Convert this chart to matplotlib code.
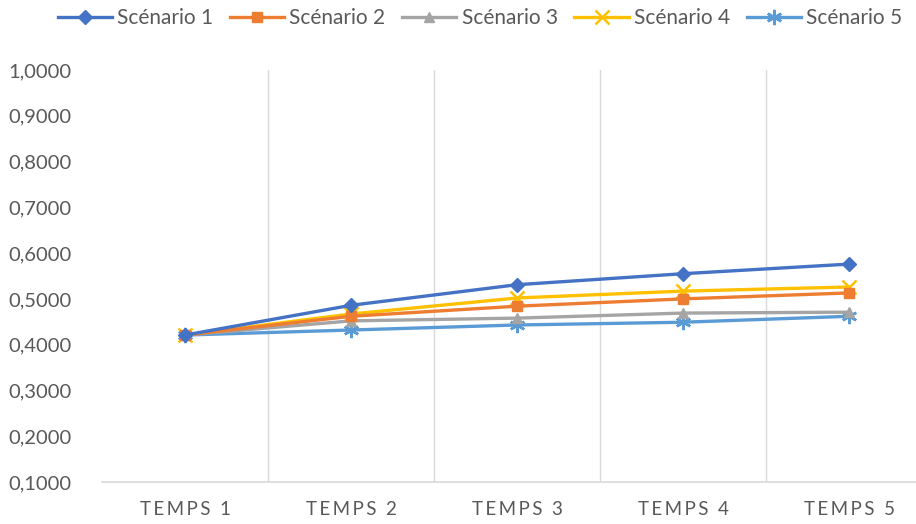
import matplotlib
matplotlib.use("Agg")
from matplotlib import pyplot as plt
from matplotlib.ticker import FuncFormatter

# données
temps = ["TEMPS 1", "TEMPS 2", "TEMPS 3", "TEMPS 4", "TEMPS 5"]
scenario_1 = [0.421, 0.486, 0.531, 0.555, 0.576]
scenario_2 = [0.421, 0.462, 0.484, 0.500, 0.513]
scenario_3 = [0.421, 0.452, 0.458, 0.469, 0.471]
scenario_4 = [0.421, 0.467, 0.502, 0.517, 0.526]
scenario_5 = [0.421, 0.432, 0.443, 0.449, 0.462]
noms = ["Scénario 1", "Scénario 2", "Scénario 3", "Scénario 4", "Scénario 5"]

couleurs = ["#4472C4", "#ED7D31", "#A5A5A5", "#FFC000", "#5B9BD5"]
marqueurs = ["D", "s", "^", "x", (6, 2, 0)]
tailles = [7.5, 7.5, 7.5, 10, 11]

plt.rcParams["font.family"] = ["Lato", "DejaVu Sans"]
gris = "#595959"

fig = plt.figure(figsize=(9.16, 5.24), dpi=100)
ax = fig.add_axes([102 / 916, 1 - 482 / 524, 1 - 102 / 916, (482 - 70) / 524])

x = list(range(len(temps)))
series = [scenario_1, scenario_2, scenario_3, scenario_4, scenario_5]
for i, s in enumerate(series):
    ax.plot(x, s, color=couleurs[i], marker=marqueurs[i], markersize=tailles[i],
            markeredgewidth=1.8 if i >= 3 else 1, linewidth=2.4, label=noms[i],
            zorder=3 + (4 - i))

ax.set_ylim(0.1, 1.0)
ax.set_xlim(-0.5, -0.5 + 814 / 166)
ax.set_yticks([0.1 * k for k in range(1, 11)])
ax.yaxis.set_major_formatter(FuncFormatter(lambda v, p: f"{v:.4f}".replace(".", ",")))
ax.set_xticks(x)
# espacement des lettres comme dans Excel
ax.set_xticklabels(["\u2009".join(t) for t in temps])

# lignes verticales entre les catégories
for b in [0.5, 1.5, 2.5, 3.5]:
    ax.axvline(b, color="#D9D9D9", linewidth=1, zorder=1)

for side in ["left", "right", "top"]:
    ax.spines[side].set_visible(False)
ax.spines["bottom"].set_color("#D9D9D9")
ax.spines["bottom"].set_linewidth(1.2)
ax.tick_params(axis="y", length=0, labelsize=14.5, colors=gris, pad=22)
ax.tick_params(axis="x", length=0, labelsize=13.5, colors=gris, pad=14)

ax.legend(loc="center", bbox_to_anchor=(480 / 916, 1 - 18 / 524),
          bbox_transform=fig.transFigure, ncol=5, frameon=False,
          fontsize=15, labelcolor=gris, handlelength=2.6, handletextpad=0.25,
          columnspacing=0.8, borderpad=0)

fig.savefig("out.png", dpi=100)
